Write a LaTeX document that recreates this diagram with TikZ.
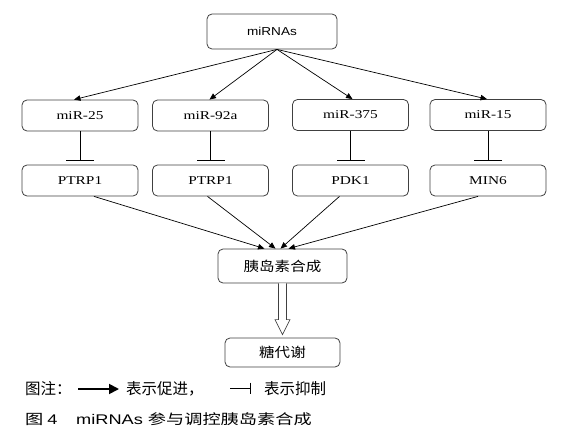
\documentclass[tikz,border=0pt]{standalone}
\usepackage{fontspec}
\usetikzlibrary{arrows.meta}
\setmainfont{Liberation Serif}
\newfontfamily\boxrm[FakeStretch=1.28]{Liberation Serif}
\newfontfamily\boxsf[FakeStretch=1.18]{Liberation Sans}
\newfontfamily\boxcjk[FakeStretch=1.15]{Noto Sans CJK SC}
\newfontfamily\legcjk{Noto Sans CJK SC}
\newfontfamily\capcjk[FakeStretch=1.3]{Noto Sans CJK SC}
\newfontfamily\capsf[FakeStretch=1.3]{Liberation Sans}
\begin{document}
\begin{tikzpicture}[x=1pt,y=-1pt,
  box/.style={draw=black!75, line width=0.8pt, rounded corners=5pt, inner sep=0pt, align=center, fill=white},
  mbox/.style={box, minimum width=116pt, minimum height=31pt, font=\boxrm\fontsize{12}{14}\selectfont},
  act/.style={-{Triangle[length=6.5pt,width=5.5pt]}, line width=0.7pt},
  inh/.style={-{Bar[width=28pt]}, line width=0.7pt},
  leg/.style={anchor=west, inner sep=0pt}]
\useasboundingbox (0,0) rectangle (573,441);
% top
\node[box, minimum width=130pt, minimum height=35pt] (mi) at (272,31.5) {\boxsf\fontsize{11.5}{13}\selectfont miRNAs};
% miR boxes
\node[mbox] (m1) at (80,115.5) {miR-25};
\node[mbox] (m2) at (210.5,115.5) {miR-92a};
\node[mbox] (m3) at (350.5,115) {miR-375};
\node[mbox] (m4) at (488,115) {miR-15};
% targets
\node[mbox] (p1) at (80,180.5) {PTRP1};
\node[mbox] (p2) at (210.5,180.5) {PTRP1};
\node[mbox] (p3) at (350.5,180.5) {PDK1};
\node[mbox] (p4) at (488,180.5) {MIN6};
% insulin
\node[box, minimum width=129pt, minimum height=34pt] (ins) at (282.5,266) {\boxcjk\fontsize{13.5}{15}\selectfont 胰岛素合成};
\node[box, minimum width=115pt, minimum height=29pt] (met) at (282.5,352.5) {\boxcjk\fontsize{13.5}{15}\selectfont 糖代谢};
% arrows from miRNAs
\draw[act] ([xshift=5pt]mi.south) -- ([xshift=-6pt]m1.north);
\draw[act] ([xshift=5pt]mi.south) -- ([xshift=-1pt]m2.north);
\draw[act] ([xshift=5pt]mi.south) -- ([xshift=2pt]m3.north);
\draw[act] ([xshift=5pt]mi.south) -- ([xshift=-1pt]m4.north);
% inhibition
\draw[inh] (m1.south) -- ([yshift=4pt]p1.north);
\draw[inh] (m2.south) -- ([yshift=4pt]p2.north);
\draw[inh] (m3.south) -- ([yshift=4pt]p3.north);
\draw[inh] (m4.south) -- ([yshift=4pt]p4.north);
% to insulin
\draw[act] ([xshift=14pt]p1.south) -- ([xshift=-18pt]ins.north);
\draw[act] ([xshift=-3pt]p2.south) -- ([xshift=-7pt]ins.north);
\draw[act] ([xshift=-11pt]p3.south) -- ([xshift=-2pt]ins.north);
\draw[act] ([xshift=-10pt]p4.south) -- ([xshift=6pt]ins.north);
% hollow arrow
\draw[line width=0.7pt, draw=black!75, fill=white] ([xshift=-4pt]ins.south) -- ([xshift=-4pt,yshift=18pt]met.north) -- ([xshift=-7.5pt,yshift=18pt]met.north) -- ([yshift=3pt]met.north) -- ([xshift=7.5pt,yshift=18pt]met.north) -- ([xshift=4pt,yshift=18pt]met.north) -- ([xshift=4pt]ins.south);
% legend
\node[leg] (l1) at (25,389) {\legcjk\fontsize{15.5}{17}\selectfont 图注：};
\coordinate (la1) at (78,389);
\coordinate (la2) at (119,389);
\draw[line width=1.8pt, -{Triangle[length=10pt,width=10pt]}] (la1) -- (la2);
\node[leg] (l2) at (126,389) {\legcjk\fontsize{15.5}{17}\selectfont 表示促进，};
\coordinate (li1) at (230,388);
\coordinate (li2) at (251,388);
\draw[line width=1pt, -{Bar[width=11pt]}] (li1) -- (li2);
\node[leg] (l3) at (264,389) {\legcjk\fontsize{15.5}{17}\selectfont 表示抑制};
% caption
\node[leg] (c1) at (25,419) {\capcjk\fontsize{14}{16}\selectfont 图\hspace{4pt}{\capsf 4}};
\node[leg] (c2) at (76,419) {{\capsf\fontsize{14}{16}\selectfont miRNAs}\hspace{5pt}{\capcjk\fontsize{14}{16}\selectfont 参与调控胰岛素合成}};
\end{tikzpicture}
\end{document}
